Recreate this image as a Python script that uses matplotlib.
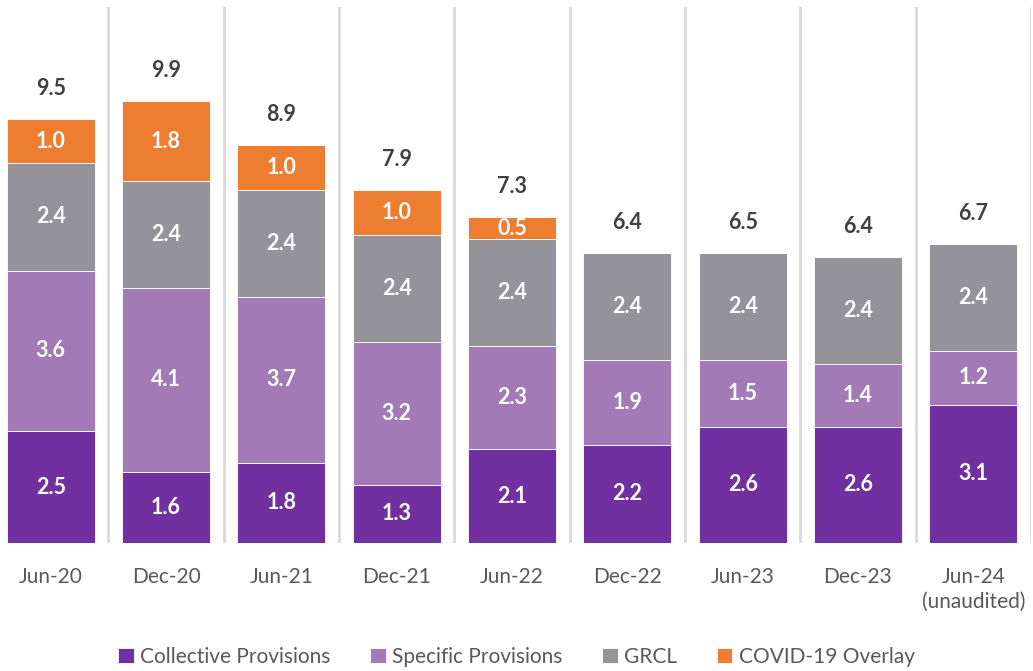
import numpy as np
import matplotlib.pyplot as plt

categories = ['Jun-20', 'Dec-20', 'Jun-21', 'Dec-21', 'Jun-22',
              'Dec-22', 'Jun-23', 'Dec-23', 'Jun-24\n(unaudited)']
collective = [2.5, 1.6, 1.8, 1.3, 2.1, 2.2, 2.6, 2.6, 3.1]
specific = [3.6, 4.1, 3.7, 3.2, 2.3, 1.9, 1.5, 1.4, 1.2]
grcl = [2.4, 2.4, 2.4, 2.4, 2.4, 2.4, 2.4, 2.4, 2.4]
covid = [1.0, 1.8, 1.0, 1.0, 0.5, 0, 0, 0, 0]
totals = [9.5, 9.9, 8.9, 7.9, 7.3, 6.4, 6.5, 6.4, 6.7]

series = [('Collective Provisions', collective, '#7030A0'),
          ('Specific Provisions', specific, '#A27BB6'),
          ('GRCL', grcl, '#939399'),
          ('COVID-19 Overlay', covid, '#ED7D31')]

plt.rcParams['font.family'] = ['Lato', 'DejaVu Sans']

fig = plt.figure(figsize=(10.33, 6.71), dpi=100)
ax = fig.add_axes([-7 / 1033, 1 - 543 / 671, 1038 / 1033, 536 / 671])

x = np.arange(len(categories))
bottom = np.zeros(len(categories))
for name, vals, col in series:
    vals = np.array(vals)
    ax.bar(x, vals, 0.765, bottom=bottom, color=col, label=name,
           edgecolor='white', linewidth=0.6, zorder=3)
    for xi, b, v in zip(x, bottom, vals):
        if v > 0:
            ax.text(xi, b + v / 2, f'{v:.1f}', ha='center', va='center',
                    color='white', fontsize=15.5, fontweight='bold', zorder=4)
    bottom = bottom + vals

# totals above each stack
for xi, top, t in zip(x, bottom, totals):
    ax.annotate(f'{t:.1f}', (xi, top), xytext=(0, 22), textcoords='offset points',
                ha='center', va='center', color='#404040', fontsize=15.5,
                fontweight='bold')

for k in range(-1, len(categories)):
    ax.axvline(k + 0.5, color='#D9D9D9', linewidth=2, zorder=1)

ax.set_xlim(-0.5, len(categories) - 0.5)
ax.set_ylim(0, 12)
ax.set_xticks(x)
ax.set_xticklabels(categories, fontsize=15, color='#595959', linespacing=1.35)
ax.tick_params(axis='x', length=0, pad=17)
ax.set_yticks([])
for s in ax.spines.values():
    s.set_visible(False)

fig.legend(loc='center', bbox_to_anchor=(0.5, 1 - 657 / 671), ncol=4,
           frameon=False, fontsize=15, handlelength=0.75, handleheight=0.75,
           handletextpad=0.3, columnspacing=1.9, labelcolor='#595959')

fig.savefig('out.png', dpi=100)
